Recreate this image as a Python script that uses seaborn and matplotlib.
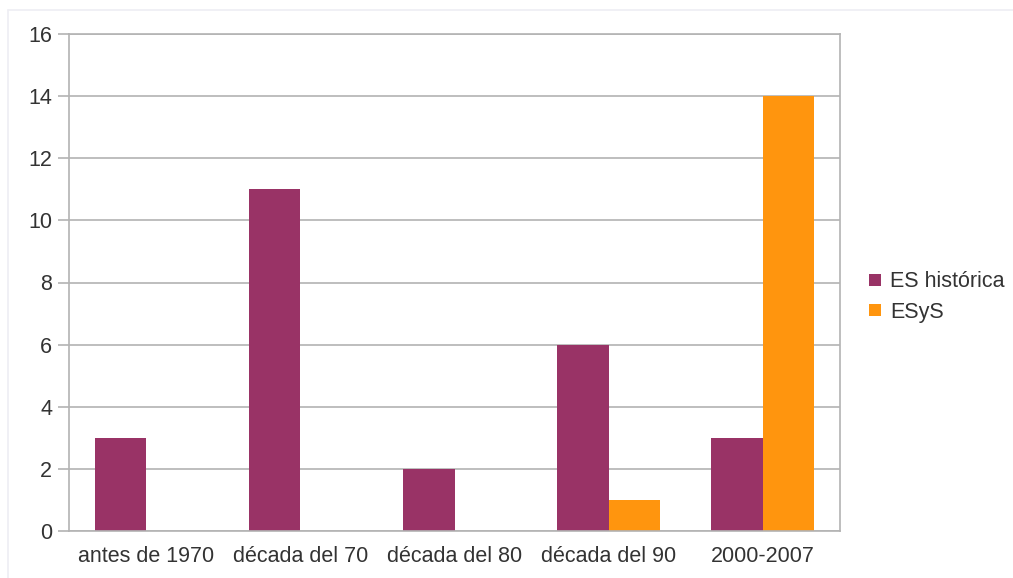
import matplotlib
matplotlib.use("Agg")
import matplotlib.pyplot as plt
from matplotlib.lines import Line2D
import seaborn as sns
import pandas as pd

# data
periods = ["antes de 1970", "década del 70", "década del 80", "década del 90", "2000-2007"]
es_historica = [3, 11, 2, 6, 3]
esys = [0, 0, 0, 1, 14]
series_names = ["ES histórica", "ESyS"]
colors = ["#993366", "#ff950e"]
y_ticks = [0, 2, 4, 6, 8, 10, 12, 14, 16]

df = pd.DataFrame({
    "periodo": periods * 2,
    "valor": es_historica + esys,
    "serie": [series_names[0]] * len(periods) + [series_names[1]] * len(periods),
})

sns.set_style("white")
plt.rcParams["font.family"] = ["Liberation Sans", "DejaVu Sans"]
text_color = "#333333"
line_color = "#b3b3b3"
fs = 15.5

fig = plt.figure(figsize=(10.13, 5.78), dpi=100)
ax = fig.add_axes([69 / 1013, 1 - 531 / 578, 771 / 1013, 497 / 578])

sns.barplot(data=df, x="periodo", y="valor", hue="serie", order=periods,
            hue_order=series_names, palette=colors, saturation=1,
            width=0.667, gap=0, linewidth=0, legend=False, ax=ax)

ax.set_xlim(-0.5, len(periods) - 0.5)
ax.set_ylim(0, 16)
ax.set_yticks(y_ticks)
ax.set_xlabel("")
ax.set_ylabel("")
ax.yaxis.grid(True, color=line_color, linewidth=1.2)
ax.set_axisbelow(True)
for side in ["left", "right", "bottom", "top"]:
    ax.spines[side].set_visible(True)
    ax.spines[side].set_color(line_color)
    ax.spines[side].set_linewidth(1.2)

# category labels centred, tick marks on the boundaries
ax.set_xticks([i - 0.5 for i in range(len(periods) + 1)])
ax.set_xticklabels([])
ax.set_xticks(range(len(periods)), minor=True)
ax.set_xticklabels(periods, minor=True)
ax.tick_params(axis="x", which="major", length=7.5, width=1.2, color=line_color)
ax.tick_params(axis="x", which="minor", length=0, pad=11, labelsize=fs, labelcolor=text_color)
ax.tick_params(axis="y", length=8, width=1.2, color=line_color, pad=4, labelsize=fs,
               labelcolor=text_color, left=True)

handles = [Line2D([0], [0], marker="s", linestyle="", markersize=8.5,
                  markerfacecolor=c, markeredgewidth=0) for c in colors]
fig.legend(handles, series_names, loc="center left", bbox_to_anchor=(860 / 1013, 1 - 297 / 578),
           frameon=False, fontsize=fs, labelcolor=text_color, handlelength=0.6,
           handletextpad=0.4, labelspacing=0.45, borderaxespad=0)

# faint outer frame (top and left edges only)
frame_color = "#eeeef3"
fig.add_artist(Line2D([8 / 1013, 1], [1 - 10 / 578] * 2, transform=fig.transFigure,
                      color=frame_color, linewidth=1.2))
fig.add_artist(Line2D([8 / 1013] * 2, [0, 1 - 10 / 578], transform=fig.transFigure,
                      color=frame_color, linewidth=1.2))

fig.savefig("out.png", dpi=100, facecolor="white")
